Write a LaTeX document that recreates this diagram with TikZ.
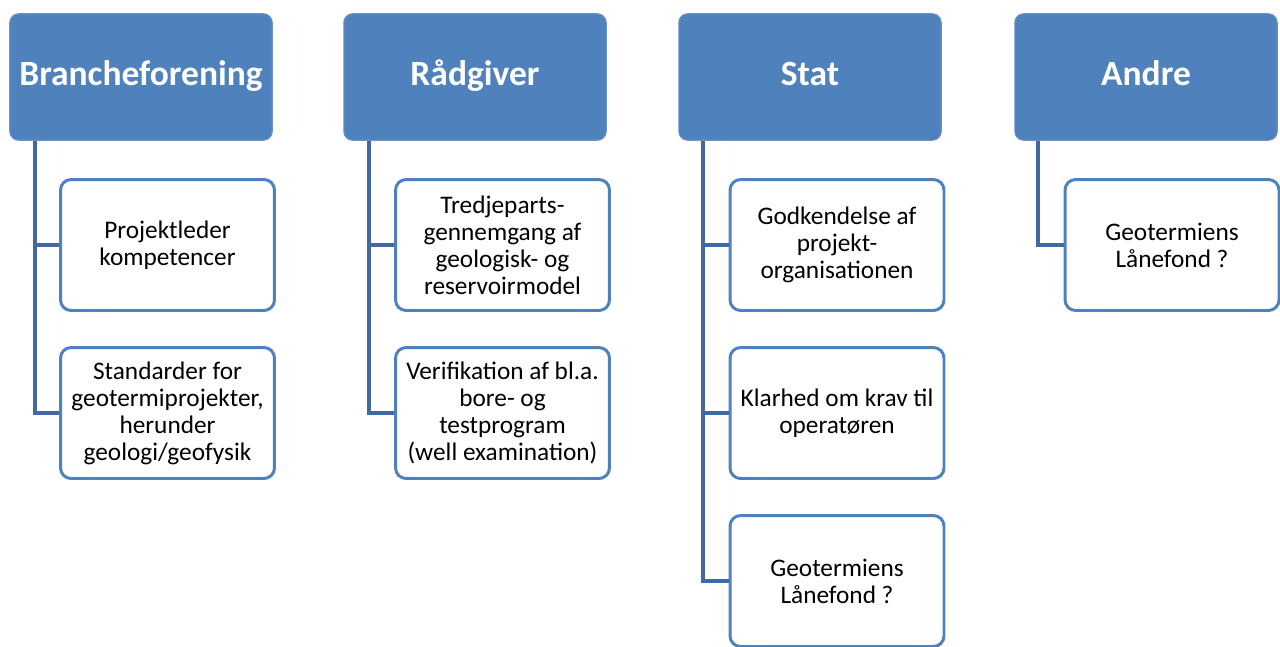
\documentclass[tikz,border=0pt]{standalone}
\usepackage{fontspec}
\setmainfont{Carlito}
\usepackage{tikz}
\usetikzlibrary{positioning}
\definecolor{hdrblue}{HTML}{4F81BD}
\definecolor{linkblue}{HTML}{41689F}

\begin{document}
\begin{tikzpicture}[
  x=0.02cm, y=-0.02cm,
  hdr/.style={fill=hdrblue, draw=hdrblue!85!white, line width=0.6pt, rounded corners=5pt,
    minimum width=5.25cm, minimum height=2.53cm, text=white,
    text height=2.6ex, text depth=0.5ex,
    font=\fontsize{20.2}{24}\selectfont\bfseries},
  item/.style={draw=hdrblue, fill=white, line width=1.7pt, rounded corners=6pt, align=center,
    minimum width=4.28cm, minimum height=2.62cm, inner sep=1pt,
    font=\fontsize{14.4}{15.4}\selectfont},
  link/.style={draw=linkblue, line width=1.8pt}
]
\useasboundingbox (0,0) rectangle (1280,646);

% headers
\node[hdr] (brf) at (141,77) {Brancheforening};
\node[hdr] (raad) at (475,77) {Rådgiver};
\node[hdr] (stat) at (810,77) {Stat};
\node[hdr] (andre) at (1146,77) {Andre};

% trunks
\coordinate (tbrf) at (35,141);
\coordinate (traad) at (369,141);
\coordinate (tstat) at (703,141);
\coordinate (tandre) at (1038,141);

% items
\node[item] (brf1) at (167.5,245) {Projektleder\\kompetencer};
\node[item] (brf2) at (167.5,413) {Standarder for\\geotermiprojekter,\\herunder\\geologi/geofysik};
\node[item] (raad1) at (502.5,245) {Tredjeparts-\\gennemgang af\\geologisk- og\\reservoirmodel};
\node[item] (raad2) at (502.5,413) {Verifikation af bl.a.\\bore- og\\testprogram\\(well examination)};
\node[item] (stat1) at (837,245) {Godkendelse af\\projekt-\\organisationen};
\node[item] (stat2) at (837,413) {Klarhed om krav til\\operatøren};
\node[item] (stat3) at (837,581) {Geotermiens\\Lånefond ?};
\node[item] (andre1) at (1172,245) {Geotermiens\\Lånefond ?};

% connectors
\draw[link] (tbrf) |- (brf1.west);
\draw[link] (tbrf) |- (brf2.west);
\draw[link] (traad) |- (raad1.west);
\draw[link] (traad) |- (raad2.west);
\draw[link] (tstat) |- (stat1.west);
\draw[link] (tstat) |- (stat2.west);
\draw[link] (tstat) |- (stat3.west);
\draw[link] (tandre) |- (andre1.west);
\end{tikzpicture}
\end{document}
